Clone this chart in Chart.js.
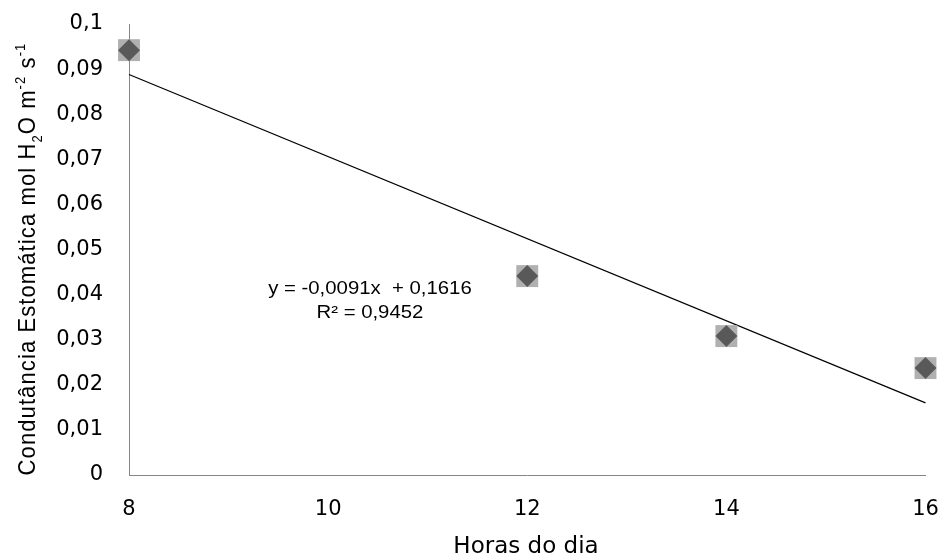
<!DOCTYPE html>
<html>
<head>
<meta charset="utf-8">
<script src="https://cdn.jsdelivr.net/npm/chart.js@4"></script>
<style>
  html, body { margin: 0; padding: 0; background: #fff; }
  #wrap { width: 941px; height: 559px; position: relative; }
</style>
</head>
<body>
<div id="wrap"><canvas id="c" width="941" height="559"></canvas></div>
<script>
// Hours of the day and measured stomatal conductance
const hours = [8, 12, 14, 16];
const conductance = [0.0942, 0.0441, 0.0308, 0.0237];

// Linear trend line endpoints (y = -0,0091x + 0,1616)
const trendHours = [8, 16];
const trendValues = [0.0888, 0.0160];

const equationLines = ['y = -0,0091x  + 0,1616', 'R² = 0,9452'];
const xTicks = [8, 10, 12, 14, 16];
const xTitle = 'Horas do dia';

const tickFont = '"DejaVu Sans", sans-serif';
const textFont = '"Liberation Sans", Arial, sans-serif';

const pts = (xs, ys) => xs.map((x, i) => ({ x: x, y: ys[i] }));

// Draws the rotated y title with sub/superscripts, the x title and the equation
const annotations = {
  id: 'annotations',
  afterDraw(chart) {
    const ctx = chart.ctx;
    ctx.save();
    ctx.fillStyle = '#000';

    // x-axis title
    ctx.font = '23px ' + tickFont;
    ctx.textAlign = 'center';
    ctx.textBaseline = 'middle';
    ctx.fillText(xTitle, 526, 547);

    // regression equation, slightly widened
    const xs = chart.scales.x;
    const ys = chart.scales.y;
    const ex = xs.getPixelForValue(10.42);
    ctx.save();
    ctx.translate(ex, 0);
    ctx.scale(1.13, 1);
    ctx.font = '18px ' + textFont;
    ctx.fillText(equationLines[0], 0, ys.getPixelForValue(0.0412));
    ctx.fillText(equationLines[1], 0, ys.getPixelForValue(0.0360));
    ctx.restore();

    // rotated y title built from segments
    const big = '22px ' + textFont;
    const small = '13px ' + textFont;
    const segs = [
      { t: 'Condutância Estomática mol H', f: big, dy: 0 },
      { t: '2', f: small, dy: 6 },
      { t: 'O m', f: big, dy: 0 },
      { t: '-2', f: small, dy: -9 },
      { t: ' s', f: big, dy: 0 },
      { t: '-1', f: small, dy: -9 }
    ];
    ctx.letterSpacing = '1.1px';
    let total = 0;
    segs.forEach(s => { ctx.font = s.f; s.w = ctx.measureText(s.t).width; total += s.w; });
    ctx.translate(35, 259);
    ctx.scale(1.12, 1);
    ctx.rotate(-Math.PI / 2);
    ctx.textAlign = 'left';
    ctx.textBaseline = 'alphabetic';
    let cx = -total / 2;
    segs.forEach(s => {
      ctx.font = s.f;
      ctx.fillText(s.t, cx, s.dy);
      cx += s.w;
    });
    ctx.restore();
  }
};

new Chart(document.getElementById('c'), {
  type: 'scatter',
  data: {
    datasets: [
      {
        label: 'diamond',
        data: pts(hours, conductance),
        pointStyle: 'rectRot',
        pointRadius: 11,
        pointBackgroundColor: '#595959',
        pointBorderWidth: 0,
        pointBorderColor: 'rgba(0,0,0,0)',
        clip: false,
        order: 0
      },
      {
        label: 'shadow',
        data: pts(hours, conductance),
        pointStyle: 'rect',
        pointRadius: 15.5,
        pointBackgroundColor: '#b0b0b0',
        pointBorderWidth: 0,
        pointBorderColor: 'rgba(0,0,0,0)',
        clip: false,
        order: 1
      },
      {
        label: 'trend',
        type: 'line',
        data: pts(trendHours, trendValues),
        borderColor: '#000',
        borderWidth: 1.2,
        pointRadius: 0,
        fill: false,
        clip: false,
        order: 2
      }
    ]
  },
  options: {
    responsive: false,
    animation: false,
    devicePixelRatio: 1,
    layout: { padding: { top: 24, right: 14, bottom: 0, left: 0 } },
    plugins: { legend: { display: false }, tooltip: { enabled: false } },
    scales: {
      x: {
        type: 'linear',
        min: 8,
        max: 16,
        afterBuildTicks(scale) { scale.ticks = xTicks.map(v => ({ value: v })); },
        afterFit(scale) {
          scale.height = 84;
          scale.paddingLeft = 0;
          scale.paddingRight = 0;
        },
        grid: { display: false, drawTicks: false },
        border: { display: true, color: '#868686', width: 1 },
        ticks: {
          color: '#000',
          padding: 22,
          maxRotation: 0,
          font: { family: tickFont, size: 21 },
          callback: v => String(v)
        }
      },
      y: {
        min: 0,
        max: 0.1,
        afterFit(scale) {
          scale.width = 129;
          scale.paddingTop = 0;
          scale.paddingBottom = 0;
        },
        grid: { display: false, drawTicks: false },
        border: { display: true, color: '#868686', width: 1 },
        ticks: {
          stepSize: 0.01,
          color: '#000',
          padding: 26,
          font: { family: tickFont, size: 21 },
          callback: v => (v === 0 ? '0' : (Math.round(v * 100) / 100).toString().replace('.', ','))
        }
      }
    }
  },
  plugins: [annotations]
});
</script>
</body>
</html>
